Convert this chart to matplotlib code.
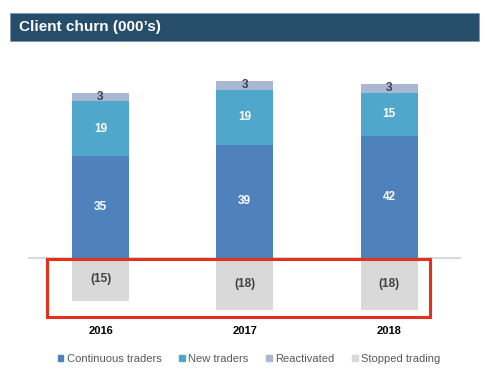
import matplotlib.pyplot as plt
from matplotlib.patches import Rectangle, Patch

plt.rcParams['font.family'] = ['Liberation Sans', 'DejaVu Sans']

years = ["2016", "2017", "2018"]
continuous = [35, 39, 42]
new_traders = [19, 19, 15]
reactivated = [3, 3, 3]
stopped = [-15, -18, -18]

c_cont = "#4F81BD"
c_new = "#4FA7CB"
c_react = "#A9B7D3"
c_stop = "#D9D9D9"

W, H = 498, 385
fig = plt.figure(figsize=(W / 100, H / 100), dpi=100)

# title bar
fig.patches.append(Rectangle((10 / W, 1 - 41 / H), 469 / W, 28 / H,
                             transform=fig.transFigure, facecolor="#264D6A",
                             edgecolor="#7F97AB", linewidth=0.6))
fig.text(19 / W, 1 - 27.5 / H, "Client churn (000\u2019s)", color="white",
         fontsize=11, fontweight="bold", va="center", ha="left")

ax = fig.add_axes([28 / W, 1 - 320 / H, 433 / W, 260 / H])
x = list(range(len(years)))
w = 0.395

b1 = ax.bar(x, continuous, w, color=c_cont, label="Continuous traders")
b2 = ax.bar(x, new_traders, w, bottom=continuous, color=c_new, label="New traders")
bot3 = [a + b for a, b in zip(continuous, new_traders)]
b3 = ax.bar(x, reactivated, w, bottom=bot3, color=c_react, label="Reactivated")
b4 = ax.bar(x, stopped, w, color=c_stop, label="Stopped trading")

for i in x:
    ax.text(i, continuous[i] / 2, str(continuous[i]), ha="center", va="center",
            color="white", fontsize=8.5, fontweight="bold")
    ax.text(i, continuous[i] + new_traders[i] / 2, str(new_traders[i]), ha="center",
            va="center", color="white", fontsize=8.5, fontweight="bold")
    ax.text(i, bot3[i] + reactivated[i] / 2, str(reactivated[i]), ha="center",
            va="center", color="#404040", fontsize=8.5, fontweight="bold")
    ax.text(i, stopped[i] / 2, "(%d)" % abs(stopped[i]), ha="center", va="center",
            color="#404040", fontsize=8.5, fontweight="bold")

ax.axhline(0, color="#D9D9D9", linewidth=1.5, zorder=0.5)

ax.set_xlim(-0.5026, 2.499)
ax.set_ylim(-21.5, 68.3)
ax.set_xticks(x)
ax.set_xticklabels(years, fontsize=8, fontweight="bold")
ax.tick_params(axis="x", length=0, pad=4)
ax.set_yticks([])
for s in ax.spines.values():
    s.set_visible(False)

# red highlight box around stopped trading
ax.add_patch(Rectangle((-0.372, -20.3), 2.655, 19.8, fill=False,
                       edgecolor="#E2311D", linewidth=2.2, clip_on=False, zorder=5))

handles = [Patch(color=c) for c in (c_cont, c_new, c_react, c_stop)]
labels = ["Continuous traders", "New traders", "Reactivated", "Stopped trading"]
fig.legend(handles, labels, loc="center", bbox_to_anchor=(0.5, 1 - 359 / H),
           ncol=4, frameon=False, fontsize=8, handlelength=0.5, handleheight=0.5,
           handletextpad=0.3, columnspacing=1.6, labelcolor="#595959")

fig.savefig("out.png", dpi=100)
